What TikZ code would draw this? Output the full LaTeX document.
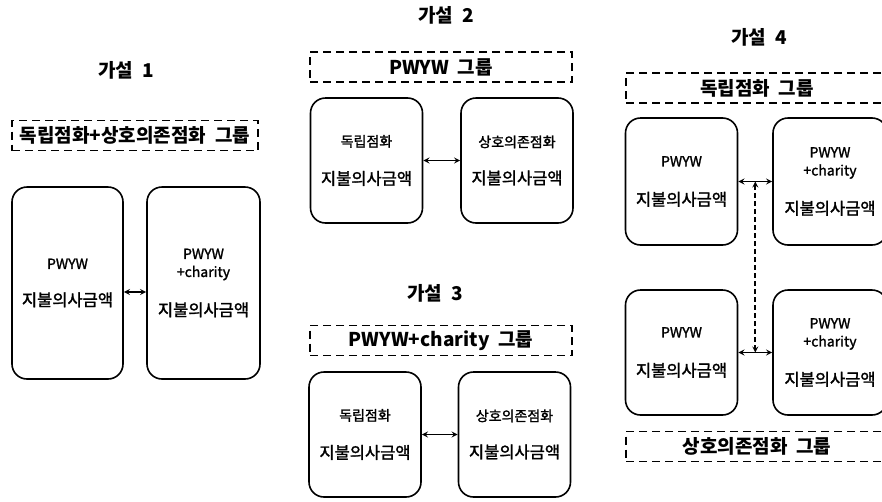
\documentclass[tikz,border=0pt]{standalone}
\usepackage{fontspec}
\setmainfont{Noto Sans CJK KR}[WordSpace=2]
\newfontfamily\boxfont{Noto Sans CJK KR}[FakeBold=1.6,WordSpace=2]
\usepackage{tikz}
\usetikzlibrary{arrows,positioning,calc}
\newcommand{\sm}{\fontsize{14}{16}\selectfont}

\begin{document}
\begin{tikzpicture}[
    x=1pt, y=-1pt,
    title/.style={font=\fontsize{19}{22}\selectfont\bfseries},
    group/.style={rectangle, draw=black, dash pattern=on 8pt off 5pt, line width=1.5pt, minimum width=262pt, minimum height=30pt, font=\fontsize{19}{21}\selectfont\bfseries},
    cond/.style={rectangle, draw=black, rounded corners=15pt, line width=1.6pt, align=center, minimum width=112pt, minimum height=125pt, font=\boxfont\fontsize{16.5}{18}\selectfont},
    arrow/.style={<->,>=stealth,line width=1.7pt},
    link/.style={<->,>=stealth,line width=1.6pt,dash pattern=on 5pt off 3pt}
]
\clip (0,0) rectangle (882,501);

% Hypothesis 1
\node[title] (t1) at (126,70) {가설 1};
\node[group, minimum width=246pt] (g1) at (135,135.5) {독립점화+상호의존점화 그룹};
\node[cond, minimum width=111pt, minimum height=192pt] (h1a) at (67.5,283) {{\sm PWYW}\\[19pt]지불의사금액};
\node[cond, minimum width=113pt, minimum height=192pt] (h1b) at (203.5,283) {{\sm PWYW}\\{\sm +charity}\\[21pt]지불의사금액};

% Hypothesis 2
\node[title] (t2) at (446,15) {가설 2};
\node[group] (g2) at (441,67) {PWYW 그룹};
\node[cond] (h2a) at (366.5,160.5) {{\sm 독립점화}\\[20pt]지불의사금액};
\node[cond] (h2b) at (517,160.5) {{\sm 상호의존점화}\\[19pt]지불의사금액};

% Hypothesis 3
\node[title] (t3) at (435,293) {가설 3};
\node[group] (g3) at (441,340.5) {PWYW+charity 그룹};
\node[cond] (h3a) at (365,434.5) {{\sm 독립점화}\\[20pt]지불의사금액};
\node[cond] (h3b) at (514.5,434.5) {{\sm 상호의존점화}\\[19pt]지불의사금액};

% Hypothesis 4
\node[title] (t4) at (759,37) {가설 4};
\node[group] (g4a) at (757,88) {독립점화 그룹};
\node[cond, minimum height=127pt] (h4a) at (681.5,181.5) {{\sm PWYW}\\[21pt]지불의사금액};
\node[cond, minimum width=114pt, minimum height=127pt] (h4b) at (830,181.5) {{\sm PWYW}\\{\sm +charity}\\[21pt]지불의사금액};
\node[cond] (h4c) at (681.5,352.5) {{\sm PWYW}\\[21pt]지불의사금액};
\node[cond, minimum width=114pt] (h4d) at (830,352.5) {{\sm PWYW}\\{\sm +charity}\\[21pt]지불의사금액};
\node[group] (g4b) at (757,446.5) {상호의존점화 그룹};

% Connections
\draw[arrow] ([yshift=-9pt]h1a.east) -- ([yshift=-9pt]h1b.west);
\draw[arrow] (h2a.east) -- (h2b.west);
\draw[arrow] (h3a.east) -- (h3b.west);
\draw[arrow] (h4a.east) -- (h4b.west);
\draw[arrow] (h4c.east) -- (h4d.west);

% Group comparison
\coordinate (m4a) at ($(h4a.east)!0.5!(h4b.west)$);
\coordinate (m4b) at ($(h4c.east)!0.5!(h4d.west)$);
\draw[link] (m4a) -- (m4b);

\end{tikzpicture}
\end{document}
